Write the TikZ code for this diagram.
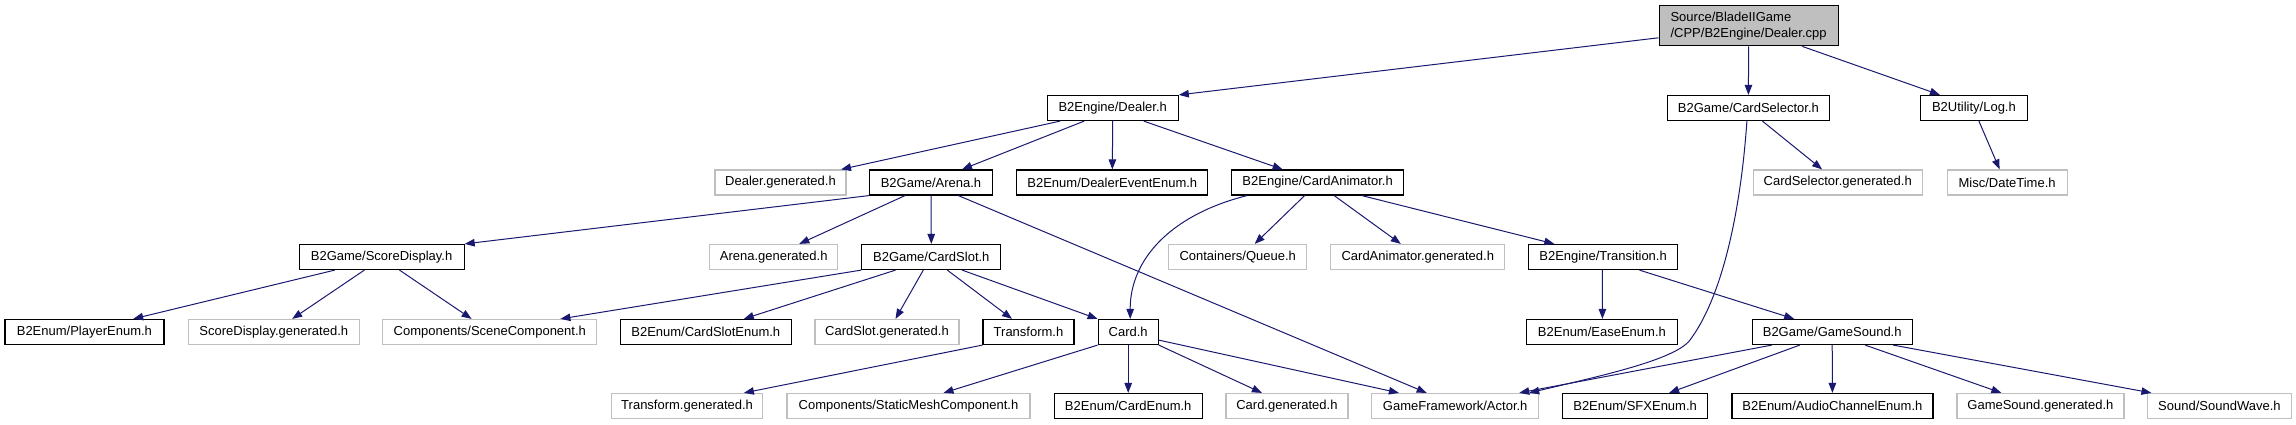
\documentclass[tikz,border=0pt]{standalone}
\usepackage{fontspec}
\setmainfont{Liberation Sans}
\usetikzlibrary{arrows.meta}
\definecolor{edgeblue}{HTML}{191970}
\definecolor{lightgrey}{HTML}{BFBFBF}
\begin{document}
\begin{tikzpicture}[x=1pt,y=-1pt,
  every node/.style={font=\fontsize{13}{16}\selectfont, inner sep=0pt, minimum height=25pt},
  hdr/.style={draw=black, line width=1.2pt, fill=white},
  ext/.style={draw=lightgrey, line width=1.2pt, fill=white},
  srcbox/.style={draw=black, line width=1.2pt, fill=lightgrey, align=left, minimum height=40pt},
  edge/.style={draw=edgeblue, line width=1pt, -{Triangle[length=10pt,width=7.5pt]}},
]
\useasboundingbox (0,0) rectangle (2296,425);

% row 0
\node[srcbox, minimum width=179pt] (src) at (1748.6,25.8) {Source/BladeIIGame\\/CPP/B2Engine/Dealer.cpp};
% row 1
\node[hdr, minimum width=131pt] (dealerh) at (1112.7,108) {B2Engine/Dealer.h};
\node[hdr, minimum width=162.5pt] (cardsel) at (1748.4,108) {B2Game/CardSelector.h};
\node[hdr, minimum width=107pt] (log) at (1973.9,108) {B2Utility/Log.h};
% row 2
\node[ext, minimum width=131pt] (dealergen) at (780.5,182.5) {Dealer.generated.h};
\node[hdr, minimum width=123pt] (arena) at (931,182.5) {B2Game/Arena.h};
\node[hdr, minimum width=191pt] (dealerevent) at (1112.3,182.5) {B2Enum/DealerEventEnum.h};
\node[hdr, minimum width=172pt] (cardanim) at (1317.6,182.5) {B2Engine/CardAnimator.h};
\node[ext, minimum width=169pt] (cardselgen) at (1837.7,182.5) {CardSelector.generated.h};
\node[ext, minimum width=120pt] (datetime) at (2007.1,182.5) {Misc/DateTime.h};
% row 3
\node[hdr, minimum width=165pt] (scoredisp) at (381.6,257) {B2Game/ScoreDisplay.h};
\node[ext, minimum width=128pt] (arenagen) at (773.7,257) {Arena.generated.h};
\node[hdr, minimum width=139pt] (cardslot) at (931.3,257) {B2Game/CardSlot.h};
\node[ext, minimum width=138pt] (queue) at (1237.7,257) {Containers/Queue.h};
\node[ext, minimum width=174pt] (cardanimgen) at (1417.8,257) {CardAnimator.generated.h};
\node[hdr, minimum width=149pt] (transition) at (1603.1,257) {B2Engine/Transition.h};
% row 4
\node[hdr, minimum width=159pt] (playerenum) at (84.4,332) {B2Enum/PlayerEnum.h};
\node[ext, minimum width=171pt] (scoregen) at (273.8,332) {ScoreDisplay.generated.h};
\node[ext, minimum width=214pt] (scenecomp) at (489.8,332) {Components/SceneComponent.h};
\node[hdr, minimum width=171pt] (cardslotenum) at (705.8,332) {B2Enum/CardSlotEnum.h};
\node[ext, minimum width=144pt] (cardslotgen) at (887,332) {CardSlot.generated.h};
\node[hdr, minimum width=91pt] (transform) at (1028.5,332) {Transform.h};
\node[hdr, minimum width=60pt] (card) at (1128.2,332) {Card.h};
\node[hdr, minimum width=150.5pt] (easeenum) at (1601.9,332) {B2Enum/EaseEnum.h};
\node[hdr, minimum width=160pt] (gamesound) at (1832.2,332) {B2Game/GameSound.h};
% row 5
\node[ext, minimum width=151pt] (transformgen) at (687.1,406) {Transform.generated.h};
\node[ext, minimum width=243pt] (staticmesh) at (908.5,406) {Components/StaticMeshComponent.h};
\node[hdr, minimum width=148pt] (cardenum) at (1128.2,406) {B2Enum/CardEnum.h};
\node[ext, minimum width=122pt] (cardgen) at (1286.9,406) {Card.generated.h};
\node[ext, minimum width=167pt] (actor) at (1455.2,406) {GameFramework/Actor.h};
\node[hdr, minimum width=145pt] (sfxenum) at (1635.1,406) {B2Enum/SFXEnum.h};
\node[hdr, minimum width=201pt] (audioenum) at (1832.4,406) {B2Enum/AudioChannelEnum.h};
\node[ext, minimum width=167pt] (gamesoundgen) at (2040.4,406) {GameSound.generated.h};
\node[ext, minimum width=143.5pt] (soundwave) at (2219.4,406) {Sound/SoundWave.h};

% edges from Dealer.cpp
\draw[edge] ([yshift=-12pt]src.west) -- (dealerh.north east);
\draw[edge] (src.south) -- (cardsel.north);
\draw[edge] ([xshift=53.7pt]src.south) -- ([xshift=-34pt]log.north);
% Dealer.h
\draw[edge] ([xshift=-52.6pt]dealerh.south) -- ([xshift=60.5pt]dealergen.north);
\draw[edge] ([xshift=-28.5pt]dealerh.south) -- ([xshift=31pt]arena.north);
\draw[edge] (dealerh.south) -- (dealerevent.north);
\draw[edge] ([xshift=31pt]dealerh.south) -- ([xshift=-35pt]cardanim.north);
% CardSelector.h
\draw[edge] ([xshift=14pt]cardsel.south) -- ([xshift=-15.6pt]cardselgen.north);
\draw[edge] ([xshift=-1.5pt]cardsel.south) .. controls (1740,220) and (1720,300) .. (1690,340)
  .. controls (1675,360) and (1600,376) .. ([xshift=74pt]actor.north);
% Log.h
\draw[edge] ([xshift=5pt]log.south) -- ([xshift=-7.5pt]datetime.north);
% Arena.h
\draw[edge] (arena.south west) -- (scoredisp.north east);
\draw[edge] ([xshift=-26pt]arena.south) -- ([xshift=25.6pt]arenagen.north);
\draw[edge] (arena.south) -- (cardslot.north);
\draw[edge] ([xshift=27.4pt]arena.south) -- ([xshift=-28.5pt]actor.north);
% CardAnimator.h
\draw[edge] ([xshift=-70.6pt]cardanim.south) .. controls (1170,215) and (1130,260) .. ([xshift=2pt]card.north);
\draw[edge] ([xshift=-13pt]cardanim.south) -- ([xshift=17pt]queue.north);
\draw[edge] ([xshift=16.6pt]cardanim.south) -- ([xshift=-17pt]cardanimgen.north);
\draw[edge] ([xshift=44.3pt]cardanim.south) -- ([xshift=-48.8pt]transition.north);
% ScoreDisplay.h
\draw[edge] ([xshift=-46.8pt]scoredisp.south) -- ([xshift=48.8pt]playerenum.north);
\draw[edge] ([xshift=-17.2pt]scoredisp.south) -- ([xshift=18.4pt]scoregen.north);
\draw[edge] ([xshift=17.9pt]scoredisp.south) -- ([xshift=-18.2pt]scenecomp.north);
% CardSlot.h
\draw[edge] (cardslot.south west) -- ([xshift=70.6pt]scenecomp.north);
\draw[edge] ([xshift=-35.8pt]cardslot.south) -- ([xshift=38pt]cardslotenum.north);
\draw[edge] ([xshift=-8pt]cardslot.south) -- ([xshift=8.5pt]cardslotgen.north);
\draw[edge] ([xshift=16pt]cardslot.south) -- ([xshift=-16.5pt]transform.north);
\draw[edge] ([xshift=30.8pt]cardslot.south) -- (card.north west);
% Transition.h
\draw[edge] ([xshift=-0.7pt]transition.south) -- ([xshift=0.5pt]easeenum.north);
\draw[edge] ([xshift=36.3pt]transition.south) -- ([xshift=-38pt]gamesound.north);
% Transform.h
\draw[edge] (transform.south west) -- ([xshift=56.8pt]transformgen.north);
% Card.h
\draw[edge] (card.south west) -- ([xshift=35pt]staticmesh.north);
\draw[edge] (card.south) -- (cardenum.north);
\draw[edge] (card.south east) -- ([xshift=-25pt]cardgen.north);
\draw[edge] ([yshift=5pt]card.south east) -- ([xshift=-56.3pt]actor.north);
% GameSound.h
\draw[edge] ([xshift=-60.5pt]gamesound.south) -- ([xshift=64pt]actor.north);
\draw[edge] ([xshift=-32.5pt]gamesound.south) -- ([xshift=34pt]sfxenum.north);
\draw[edge] (gamesound.south) -- (audioenum.north);
\draw[edge] ([xshift=33pt]gamesound.south) -- ([xshift=-39pt]gamesoundgen.north);
\draw[edge] ([xshift=61pt]gamesound.south) -- ([xshift=-68pt]soundwave.north);
\end{tikzpicture}
\end{document}
